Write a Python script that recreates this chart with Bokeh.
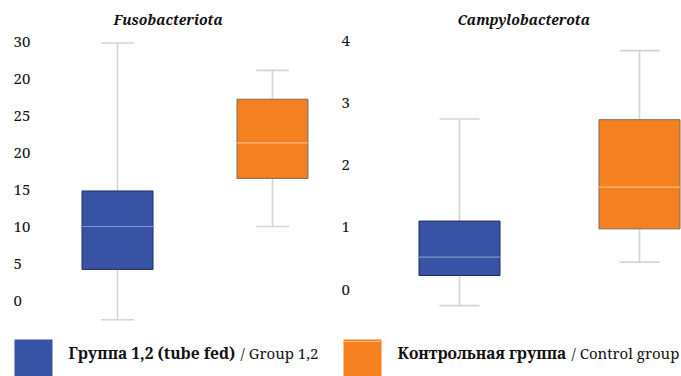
from bokeh.plotting import figure
from bokeh.layouts import column, row
from bokeh.models import Range1d, FixedTicker, ColumnDataSource, LinearAxis
from bokeh.core.properties import value
from bokeh.embed import file_html
from bokeh.resources import INLINE

# Box-plot summaries (lower whisker, Q1, median, Q3, upper whisker)
groups = ["Группа 1,2 (tube fed)", "Контрольная группа"]
fuso_low = [-2.6, 10.0]
fuso_q1 = [4.2, 16.5]
fuso_med = [10.0, 21.3]
fuso_q3 = [14.8, 27.2]
fuso_high = [34.8, 31.1]

campy_low = [-0.26, 0.44]
campy_q1 = [0.225, 0.975]
campy_med = [0.52, 1.645]
campy_q3 = [1.10, 2.73]
campy_high = [2.74, 3.84]

fuso_ticks = [0, 5, 10, 15, 20, 25, 30, 35]
fuso_tick_labels = ["0", "5", "10", "15", "20", "25", "20", "30"]
campy_ticks = [0, 1, 2, 3, 4]

legend_bold = ["Группа 1,2 (tube fed)", "Контрольная группа"]
legend_plain = ["/ Group 1,2", "/ Control group"]

FILL = ["#3953a4", "#f58020"]
EDGE = ["#1e2a66", "#7a6a5c"]
MEDIAN = ["#8a93cc", "#f9b783"]
WHISKER = "#d4d4d4"
SERIF = "Noto Serif"


def clean(p):
    p.outline_line_color = None
    p.background_fill_color = None
    p.border_fill_color = None
    p.xgrid.visible = False
    p.ygrid.visible = False


def tick_strip(yr, ticks, labels, width, label_x):
    """Narrow strip carrying the value axis; a right-side axis keeps labels left-aligned."""
    s = figure(width=width, height=330, output_backend="svg", toolbar_location=None,
               x_range=Range1d(0, 1), y_range=yr, x_axis_location=None,
               y_axis_location=None,
               min_border_left=0, min_border_right=width - label_x,
               min_border_top=30, min_border_bottom=0)
    clean(s)
    ax = LinearAxis(ticker=FixedTicker(ticks=ticks))
    ax.major_label_overrides = {t: l for t, l in zip(ticks, labels)}
    ax.axis_line_color = None
    ax.major_tick_line_color = None
    ax.minor_tick_line_color = None
    ax.major_tick_out = 0
    ax.major_tick_in = 0
    ax.major_label_standoff = 0
    ax.major_label_text_font = SERIF
    ax.major_label_text_font_size = "15px"
    ax.major_label_text_color = "#111111"
    s.add_layout(ax, "right")
    return s


def box_panel(title, low, q1, med, q3, high, width, xr, yr, box_w, cap_w, title_offset):
    p = figure(width=width, height=330, output_backend="svg", toolbar_location=None,
               x_range=Range1d(*xr), y_range=yr,
               x_axis_location=None, y_axis_location=None,
               min_border_left=0, min_border_right=0,
               min_border_top=30, min_border_bottom=0,
               title=title)
    p.title.text_font = SERIF
    p.title.text_font_style = "bold italic"
    p.title.text_font_size = "14px"
    p.title.text_color = "#111111"
    p.title.align = "left"
    p.title.offset = title_offset
    p.title.standoff = 4
    clean(p)

    x = [i + 1 for i in range(len(low))]
    src = ColumnDataSource(dict(
        x=x, low=low, q1=q1, med=med, q3=q3, high=high,
        left=[v - box_w / 2 for v in x], right=[v + box_w / 2 for v in x],
        cl=[v - cap_w / 2 for v in x], cr=[v + cap_w / 2 for v in x],
        fill=FILL, edge=EDGE, medc=MEDIAN,
    ))
    p.segment(x0="x", y0="low", x1="x", y1="high", source=src,
              line_color=WHISKER, line_width=1.6)
    p.segment(x0="cl", y0="high", x1="cr", y1="high", source=src,
              line_color=WHISKER, line_width=1.6)
    p.segment(x0="cl", y0="low", x1="cr", y1="low", source=src,
              line_color=WHISKER, line_width=1.6)
    p.quad(left="left", right="right", bottom="q1", top="q3", source=src,
           fill_color="fill", line_color="edge", line_width=1)
    p.segment(x0="left", y0="med", x1="right", y1="med", source=src,
              line_color="medc", line_width=1.2)
    return p


# value ranges framed over screen rows 30..330
fuso_y = Range1d((300 - 330) / 7.4, (300 - 30) / 7.4)
campy_y = Range1d((289 - 330) / 62.2, (289 - 30) / 62.2)

fuso_axis = tick_strip(fuso_y, fuso_ticks, fuso_tick_labels, 40, 13)
fuso = box_panel("Fusobacteriota", fuso_low, fuso_q1, fuso_med, fuso_q3, fuso_high,
                 300, (0.503, 2.439), fuso_y, 0.458, 0.213, 73)
campy_axis = tick_strip(campy_y, campy_ticks, [str(t) for t in campy_ticks], 16, 1)
campy = box_panel("Campylobacterota", campy_low, campy_q1, campy_med, campy_q3, campy_high,
                  325, (0.4278, 2.2333), campy_y, 0.45, 0.222, 101)

# Legend strip
leg = figure(width=681, height=46, output_backend="svg", toolbar_location=None,
             x_range=Range1d(0, 681), y_range=Range1d(46, 0),
             min_border=0, x_axis_location=None, y_axis_location=None)
clean(leg)
sq_left = [14, 343]
leg.quad(left=sq_left, right=[s + 38 for s in sq_left], top=[9, 9], bottom=[46, 46],
         fill_color=FILL, line_color=None)
leg.segment(x0=[343], y0=[11], x1=[381], y1=[11], line_color=MEDIAN[1], line_width=1.2)
bold_x = [68, 397]
leg.text(x=bold_x, y=[22, 22], text=legend_bold, text_font=value(SERIF),
         text_font_style="bold", text_font_size="15.6px", text_baseline="middle",
         text_color="#111111")
plain_x = [240, 571]
leg.text(x=plain_x, y=[22, 22], text=legend_plain, text_font=value(SERIF),
         text_font_size="15px", text_baseline="middle", text_color="#111111")

layout = column(row(fuso_axis, fuso, campy_axis, campy, spacing=0), leg, spacing=0)
open("out.html", "w").write(file_html(layout, INLINE))
